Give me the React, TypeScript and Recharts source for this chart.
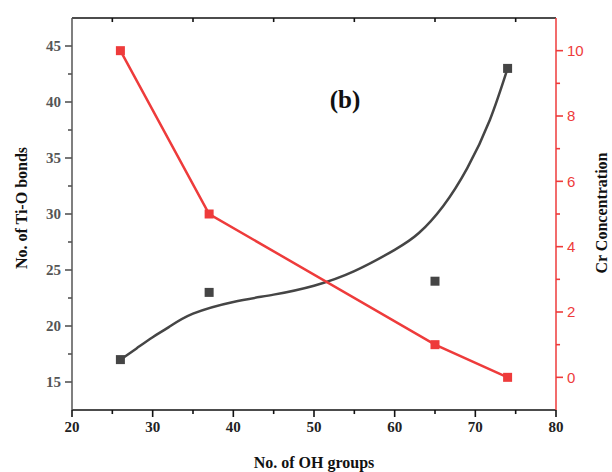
import React from 'react';
import { ComposedChart, Line, Scatter, XAxis, YAxis, ReferenceLine } from 'recharts';

const ohGroups = [26, 37, 65, 74];
const tiOBonds = [17, 23, 24, 43];
const crConcentration = [10, 5, 1, 0];
const fitX = [26, 28, 30, 32, 35, 40, 45, 50, 55, 60, 63, 66, 69, 71.8, 74];
const fitY = [17, 18.0, 19.0, 19.9, 21.1, 22.15, 22.8, 23.6, 24.9, 26.8, 28.3, 30.7, 34.1, 38.4, 43];
const xMajor = [20, 30, 40, 50, 60, 70, 80];
const xMinor = [25, 35, 45, 55, 65, 75];
const leftMajor = [15, 20, 25, 30, 35, 40, 45];
const leftMinor = [17.5, 22.5, 27.5, 32.5, 37.5, 42.5];
const rightMajor = [0, 2, 4, 6, 8, 10];
const rightMinor = [1, 3, 5, 7, 9];

const scatterData = ohGroups.map((x, i) => ({ x, y: tiOBonds[i] }));
const redData = ohGroups.map((x, i) => ({ x, y: crConcentration[i] }));
const fitData = fitX.map((x, i) => ({ x, y: fitY[i] }));

const RED = '#EE3B3B';
const DARK = '#454545';
const SERIF = '"Liberation Serif", "Times New Roman", serif';
const SANS = '"Liberation Sans", Arial, sans-serif';
const X_DOM: [number, number] = [20, 80];
const L_DOM: [number, number] = [12.5, 47.5];
const R_DOM: [number, number] = [-1, 11];
// minor tick length of ~4px, in axis units
const MX = 0.5;
const ML = 0.36;
const MR = 0.12;

const Square = (color: string) => (p: any) => {
  if (p.cx == null || p.cy == null) return <g key={p.key ?? p.index} />;
  return <rect key={p.key ?? p.index} x={p.cx - 4.5} y={p.cy - 4.5} width={9} height={9} fill={color} />;
};

export default function App() {
  return (
    <div style={{ position: 'absolute', left: 0, top: 0, width: 612, height: 472, background: '#fff' }}>
      <ComposedChart width={612} height={472} margin={{ top: 17, right: 16, bottom: 32, left: 22 }}>
        <XAxis
          xAxisId="bottom"
          dataKey="x"
          type="number"
          domain={X_DOM}
          ticks={xMajor}
          interval={0}
          tickSize={7}
          tickMargin={4}
          tickLine={{ stroke: '#111', strokeWidth: 1.6 }}
          tick={{ fill: '#222', fontSize: 15, fontFamily: SERIF, fontWeight: 'bold' }}
          height={30}
          axisLine={{ stroke: '#111', strokeWidth: 1.5 }}
          allowDataOverflow
        />
        <XAxis
          xAxisId="top"
          orientation="top"
          dataKey="x"
          type="number"
          domain={X_DOM}
          ticks={xMajor}
          interval={0}
          tickSize={-7}
          tickLine={{ stroke: '#111', strokeWidth: 1.6 }}
          tick={false}
          height={1}
          axisLine={{ stroke: '#111', strokeWidth: 1.5 }}
          allowDataOverflow
        />
        <YAxis
          yAxisId="left"
          type="number"
          domain={L_DOM}
          ticks={leftMajor}
          interval={0}
          tickSize={7}
          tickMargin={4}
          tickLine={{ stroke: '#555', strokeWidth: 1.6 }}
          tick={{ fill: '#555', fontSize: 15, fontFamily: SERIF, fontWeight: 'bold' }}
          width={50}
          axisLine={{ stroke: '#555', strokeWidth: 1.5 }}
          allowDataOverflow
        />
        <YAxis
          yAxisId="right"
          orientation="right"
          type="number"
          domain={R_DOM}
          ticks={rightMajor}
          interval={0}
          tickSize={7}
          tickMargin={4}
          tickLine={{ stroke: RED, strokeWidth: 1.6 }}
          tick={{ fill: RED, fontSize: 15, fontFamily: SANS }}
          width={40}
          axisLine={{ stroke: RED, strokeWidth: 1.5 }}
          allowDataOverflow
        />
        {xMinor.map((v) => (
          <ReferenceLine key={`b${v}`} xAxisId="bottom" yAxisId="left" ifOverflow="visible" stroke="#111" strokeWidth={1.6}
            segment={[{ x: v, y: L_DOM[0] }, { x: v, y: L_DOM[0] - ML }]} />
        ))}
        {xMinor.map((v) => (
          <ReferenceLine key={`t${v}`} xAxisId="bottom" yAxisId="left" ifOverflow="visible" stroke="#111" strokeWidth={1.6}
            segment={[{ x: v, y: L_DOM[1] }, { x: v, y: L_DOM[1] - ML }]} />
        ))}
        {leftMinor.map((v) => (
          <ReferenceLine key={`l${v}`} xAxisId="bottom" yAxisId="left" ifOverflow="visible" stroke="#555" strokeWidth={1.6}
            segment={[{ x: X_DOM[0] - MX, y: v }, { x: X_DOM[0], y: v }]} />
        ))}
        {rightMinor.map((v) => (
          <ReferenceLine key={`r${v}`} xAxisId="bottom" yAxisId="right" ifOverflow="visible" stroke={RED} strokeWidth={1.6}
            segment={[{ x: X_DOM[1], y: v }, { x: X_DOM[1] + MX, y: v }]} />
        ))}
        <Line
          data={fitData}
          xAxisId="bottom"
          yAxisId="left"
          dataKey="y"
          type="natural"
          stroke={DARK}
          strokeWidth={2.5}
          dot={false}
          activeDot={false}
          isAnimationActive={false}
        />
        <Scatter
          data={scatterData}
          xAxisId="bottom"
          yAxisId="left"
          dataKey="y"
          fill={DARK}
          shape={Square(DARK)}
          isAnimationActive={false}
        />
        <Line
          data={redData}
          xAxisId="top"
          yAxisId="right"
          dataKey="y"
          type="linear"
          stroke={RED}
          strokeWidth={2.5}
          dot={Square(RED)}
          activeDot={false}
          isAnimationActive={false}
        />
      </ComposedChart>
      <div style={{ position: 'absolute', left: 345, top: 100, transform: 'translate(-50%, -50%)', fontFamily: SERIF, fontWeight: 'bold', fontSize: 25, color: '#111', whiteSpace: 'nowrap' }}>
        (b)
      </div>
      <div style={{ position: 'absolute', left: 314, top: 463, transform: 'translate(-50%, -50%)', fontFamily: SERIF, fontWeight: 'bold', fontSize: 16, color: '#111', whiteSpace: 'nowrap' }}>
        No. of OH groups
      </div>
      <div style={{ position: 'absolute', left: 22, top: 208, transform: 'translate(-50%, -50%) rotate(-90deg)', fontFamily: SERIF, fontWeight: 'bold', fontSize: 16, color: '#111', whiteSpace: 'nowrap' }}>
        No. of Ti-O bonds
      </div>
      <div style={{ position: 'absolute', left: 602, top: 213, transform: 'translate(-50%, -50%) rotate(-90deg)', fontFamily: SERIF, fontWeight: 'bold', fontSize: 16, color: '#111', whiteSpace: 'nowrap' }}>
        Cr Concentration
      </div>
    </div>
  );
}
